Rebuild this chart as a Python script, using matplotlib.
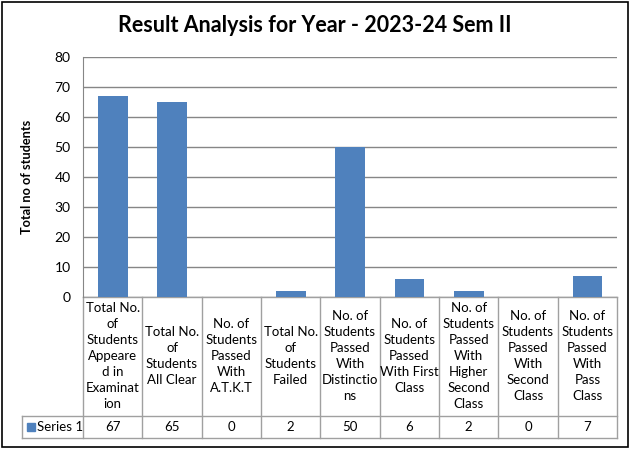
import matplotlib
matplotlib.use("Agg")
import matplotlib.pyplot as plt
from matplotlib.patches import Rectangle
from matplotlib.transforms import blended_transform_factory

categories = [
    "Total No.\nof\nStudents\nAppeare\nd in\nExaminat\nion",
    "Total No.\nof\nStudents\nAll Clear",
    "No. of\nStudents\nPassed\nWith\nA.T.K.T",
    "Total No.\nof\nStudents\nFailed",
    "No. of\nStudents\nPassed\nWith\nDistinctio\nns",
    "No. of\nStudents\nPassed\nWith First\nClass",
    "No. of\nStudents\nPassed\nWith\nHigher\nSecond\nClass",
    "No. of\nStudents\nPassed\nWith\nSecond\nClass",
    "No. of\nStudents\nPassed\nWith\nPass\nClass",
]
values = [67, 65, 0, 2, 50, 6, 2, 0, 7]
series_name = "Series 1"
yticks = [0, 10, 20, 30, 40, 50, 60, 70, 80]
title = "Result Analysis for Year - 2023-24 Sem II"
ylabel = "Total no of students"

W, H = 638, 451
plt.rcParams['font.family'] = ['Lato', 'DejaVu Sans']
fig = plt.figure(figsize=(W / 100, H / 100), dpi=100)

# outer border
fig.patches.append(Rectangle((2 / W, 4 / H), (628 - 2) / W, (449 - 4) / H,
                             transform=fig.transFigure, fill=False,
                             edgecolor='black', linewidth=1.2))

L, R, T, B = 83, 617, 57, 297
ax = fig.add_axes([L / W, 1 - B / H, (R - L) / W, (B - T) / H])
bar_color = '#4F81BD'
grid_color = '#868686'
line_color = '#A0A0A0'
n = len(values)
x = list(range(n))
ax.bar(x, values, width=0.5, color=bar_color, zorder=3)
ax.set_xlim(-0.5, n - 0.5)
ax.set_ylim(0, 80)
ax.set_yticks(yticks)
ax.set_yticklabels([str(t) for t in yticks], fontsize=10)
ax.tick_params(axis='y', length=0, pad=9, colors='black')
ax.set_xticks([])
ax.yaxis.grid(True, color=grid_color, linewidth=1, zorder=0)
for s in ['top', 'right', 'bottom']:
    ax.spines[s].set_visible(False)
ax.spines['left'].set_color(grid_color)

fig.text(315 / W, 1 - 25 / H, title, ha='center', va='center',
         fontsize=15.5, fontweight='bold')
fig.text(27 / W, 1 - 177 / H, ylabel, ha='center', va='center',
         rotation=90, fontsize=9.2, fontweight='bold')

# data table
tr = blended_transform_factory(ax.transData, ax.transAxes)
ph = B - T
y_head = (B - 416) / ph
y_data = (B - 438) / ph
colw = (R - L) / n
x_left = (22 - L) / colw - 0.5
kw = dict(transform=tr, clip_on=False, color=line_color, linewidth=1)
for i in range(n + 1):
    ax.plot([i - 0.5, i - 0.5], [0, y_data], **kw)
ax.plot([x_left, n - 0.5], [y_head, y_head], **kw)
ax.plot([x_left, n - 0.5], [y_data, y_data], **kw)
ax.plot([x_left, x_left], [y_head, y_data], **kw)
ax.plot([-0.5, n - 0.5], [0, 0], **kw)

for i, (c, v) in enumerate(zip(categories, values)):
    ax.text(i, y_head / 2, c, transform=tr, ha='center', va='center',
            fontsize=9.5, linespacing=1.4, clip_on=False)
    ax.text(i, (y_head + y_data) / 2, str(v), transform=tr, ha='center',
            va='center', fontsize=9.5, clip_on=False)

key_x = (27 - L) / colw - 0.5
key_w = 8 / colw
ym = (y_head + y_data) / 2
kh = 8 / ph
ax.add_patch(Rectangle((key_x, ym - kh / 2), key_w, kh, transform=tr,
                       clip_on=False, color=bar_color))
ax.text(key_x + key_w + 2 / colw, ym, series_name, transform=tr,
        ha='left', va='center', fontsize=9.5, clip_on=False)

fig.savefig('out.png', dpi=100)
